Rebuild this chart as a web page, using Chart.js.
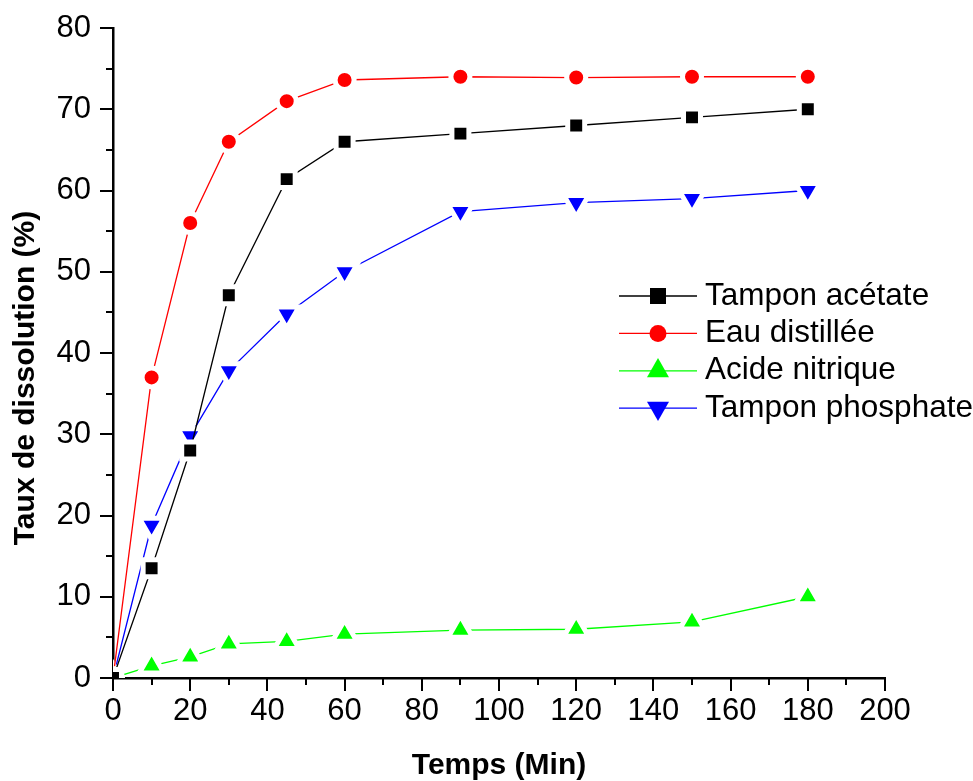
<!DOCTYPE html>
<html>
<head>
<meta charset="utf-8">
<script src="https://cdn.jsdelivr.net/npm/chart.js@4.4.1/dist/chart.umd.min.js"></script>
<style>
  html, body { margin: 0; padding: 0; background: #fff; }
  #wrap { width: 973px; height: 781px; }
</style>
</head>
<body>
<div id="wrap"><canvas id="dissolution"></canvas></div>
<script>
// temps de prélèvement (min) et taux de dissolution (%) par milieu
var temps = [0, 10, 20, 30, 45, 60, 90, 120, 150, 180];
var tamponAcetate = [0, 13.5, 28, 47.1, 61.4, 66, 67, 68, 69, 70];
var eauDistillee = [0, 37, 56, 66, 71, 73.6, 74, 73.9, 74, 74];
var acideNitrique = [0, 1.5, 2.6, 4.2, 4.5, 5.4, 5.9, 6, 6.9, 10];
var tamponPhosphate = [0, 18.8, 29.8, 37.8, 44.8, 50, 57.4, 58.5, 59, 60];

var xTickValues = [0, 20, 40, 60, 80, 100, 120, 140, 160, 180, 200];
var yTickValues = [0, 10, 20, 30, 40, 50, 60, 70, 80];

var FONT = "'Liberation Sans', Arial, sans-serif";

function points(values) {
    return temps.map(function(t, i) {
        return { x: t, y: values[i] };
    });
}

function serie(label, values, color, style, radius, rotation) {
    return {
        label: label,
        data: points(values),
        borderColor: color,
        backgroundColor: color,
        borderWidth: 1.3,
        pointStyle: style,
        pointRotation: rotation || 0,
        pointRadius: radius,
        pointBackgroundColor: color,
        // anneau blanc : petit blanc entre la courbe et le symbole
        pointBorderColor: "#ffffff",
        pointBorderWidth: 5,
        tension: 0,
        clip: 0
    };
}

// graduations majeures et mineures, titre de l'axe Y
var axisDecor = {
    id: "axisDecor",
    afterDraw: function(chart) {
        var ctx = chart.ctx;
        var area = chart.chartArea;
        var xs = chart.scales.x;
        var ys = chart.scales.y;
        ctx.save();
        ctx.strokeStyle = "#000";
        ctx.lineWidth = 2;
        ctx.beginPath();
        for (var v = 0; v <= 200; v += 10) {
            var px = Math.round(xs.getPixelForValue(v));
            var len = v % 20 === 0 ? 13 : 7;
            ctx.moveTo(px, area.bottom);
            ctx.lineTo(px, area.bottom + len);
        }
        for (var w = 0; w <= 80; w += 5) {
            var py = Math.round(ys.getPixelForValue(w));
            var l = w % 10 === 0 ? 13 : 7;
            ctx.moveTo(area.left, py);
            ctx.lineTo(area.left - l, py);
        }
        ctx.stroke();

        ctx.translate(area.left - 87, (area.top + area.bottom) / 2 + 25);
        ctx.rotate(-Math.PI / 2);
        ctx.fillStyle = "#000";
        ctx.font = "bold 30px " + FONT;
        ctx.textAlign = "center";
        ctx.textBaseline = "middle";
        ctx.fillText("Taux de dissolution (%)", 0, 0);
        ctx.restore();
    }
};

// légende façon Origin : trait + symbole
var legendRows = {
    id: "legendRows",
    afterDraw: function(chart) {
        var ctx = chart.ctx;
        var area = chart.chartArea;
        var x0 = area.left + 506;
        var y0 = area.top + 268;
        var rowH = 37.4;
        var sizes = { rect: 11.3, circle: 8.5, triangle: 12.7 };
        chart.data.datasets.forEach(function(ds, i) {
            var y = y0 + i * rowH;
            ctx.save();
            ctx.strokeStyle = ds.borderColor;
            ctx.lineWidth = 1.3;
            ctx.beginPath();
            ctx.moveTo(x0, y);
            ctx.lineTo(x0 + 78, y);
            ctx.stroke();
            ctx.fillStyle = ds.pointBackgroundColor;
            Chart.helpers.drawPoint(ctx, {
                pointStyle: ds.pointStyle,
                rotation: ds.pointRotation,
                radius: sizes[ds.pointStyle],
                borderWidth: 0
            }, x0 + 39, y);
            ctx.fillStyle = "#000";
            ctx.font = "31.5px " + FONT;
            ctx.textAlign = "left";
            ctx.textBaseline = "middle";
            ctx.fillText(ds.label, x0 + 86, y);
            ctx.restore();
        });
    }
};

var ctx1 = document.getElementById("dissolution").getContext("2d");
var myChart = new Chart(ctx1, {
    type: "line",
    data: {
        datasets: [
            serie("Tampon acétate", tamponAcetate, "#000000", "rect", 12),
            serie("Eau distillée", eauDistillee, "#ff0000", "circle", 9.5),
            serie("Acide nitrique", acideNitrique, "#00ff00", "triangle", 14.2),
            serie("Tampon phosphate", tamponPhosphate, "#0000ff", "triangle", 14.2, 180)
        ]
    },
    options: {
        responsive: true,
        maintainAspectRatio: false,
        animation: false,
        events: [],
        layout: {
            padding: { top: 28, right: 88, bottom: 0, left: 0 }
        },
        plugins: {
            legend: { display: false },
            tooltip: { enabled: false }
        },
        scales: {
            x: {
                type: "linear",
                min: 0,
                max: 200,
                afterBuildTicks: function(scale) {
                    scale.ticks = xTickValues.map(function(v) { return { value: v }; });
                },
                afterFit: function(scale) {
                    scale.height = 103;
                    scale.paddingLeft = 0;
                    scale.paddingRight = 0;
                },
                ticks: {
                    color: "#000",
                    font: { family: FONT, size: 31 },
                    padding: 15,
                    maxRotation: 0,
                    autoSkip: false
                },
                grid: { display: false, drawTicks: false },
                border: { display: true, color: "#000", width: 2.5 },
                title: {
                    display: true,
                    text: "Temps (Min)",
                    color: "#000",
                    font: { family: FONT, size: 30, weight: "bold", lineHeight: 1 },
                    padding: 0
                }
            },
            y: {
                type: "linear",
                min: 0,
                max: 80,
                afterBuildTicks: function(scale) {
                    scale.ticks = yTickValues.map(function(v) { return { value: v }; });
                },
                afterFit: function(scale) {
                    scale.width = 113;
                    scale.paddingTop = 0;
                    scale.paddingBottom = 0;
                },
                ticks: {
                    color: "#000",
                    font: { family: FONT, size: 31 },
                    padding: 22,
                    autoSkip: false
                },
                grid: { display: false, drawTicks: false },
                border: { display: true, color: "#000", width: 2.5 }
            }
        }
    },
    plugins: [axisDecor, legendRows]
});
</script>
</body>
</html>
